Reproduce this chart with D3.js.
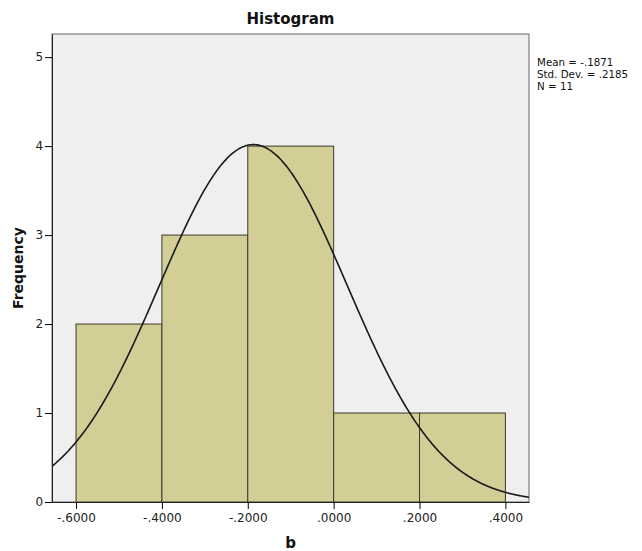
<!DOCTYPE html>
<html><head><meta charset="utf-8">
<script src="https://cdn.jsdelivr.net/npm/d3@7"></script>
<style>body{margin:0;background:#fff}text{font-family:"DejaVu Sans","Liberation Sans",sans-serif}</style>
</head><body>
<svg id="c" width="642" height="551"></svg>
<script>
const binStarts = [-0.6, -0.4, -0.2, 0.0, 0.2];
const binEnds = [-0.4, -0.2, 0.0, 0.2, 0.4];
const counts = [2, 3, 4, 1, 1];
const xTicks = [-0.6, -0.4, -0.2, 0.0, 0.2, 0.4];
const xTickLabels = ["-.6000", "-.4000", "-.2000", ".0000", ".2000", ".4000"];
const yTicks = [0, 1, 2, 3, 4, 5];
const mean = -0.1871, sd = 0.2185, n = 11, binWidth = 0.2;
const statLines = ["Mean = -.1871", "Std. Dev. = .2185", "N = 11"];

const svg = d3.select("#c");
const L = 52, R = 529, T = 34, B = 502;
const x = d3.scaleLinear().domain([-0.656, 0.455]).range([L, R]);
const y = d3.scaleLinear().domain([0, 5.26]).range([B, T]);

svg.append("rect").attr("x", L).attr("y", T).attr("width", R - L).attr("height", B - T)
  .attr("fill", "#efefef").attr("stroke", "#666").attr("stroke-width", 1);

svg.append("defs").append("clipPath").attr("id", "clip").append("rect")
  .attr("x", L).attr("y", T).attr("width", R - L).attr("height", B - T);

svg.append("g").selectAll("rect").data(counts).join("rect")
  .attr("x", (d, i) => x(binStarts[i]))
  .attr("width", (d, i) => x(binEnds[i]) - x(binStarts[i]))
  .attr("y", d => y(d))
  .attr("height", d => y(0) - y(d))
  .attr("fill", "#d3cd96").attr("stroke", "#3a3a2a").attr("stroke-width", 1);

const pts = d3.range(0, 401).map(i => {
  const v = -0.656 + (0.455 + 0.656) * i / 400;
  const f = n * binWidth / (sd * Math.sqrt(2 * Math.PI)) * Math.exp(-0.5 * ((v - mean) / sd) ** 2);
  return [v, f];
});
svg.append("path").datum(pts).attr("clip-path", "url(#clip)")
  .attr("d", d3.line().x(d => x(d[0])).y(d => y(d[1])).curve(d3.curveBasis))
  .attr("fill", "none").attr("stroke", "#1a1a1a").attr("stroke-width", 1.6);

const xAxis = svg.append("g").attr("transform", `translate(0,${B})`)
  .call(d3.axisBottom(x).tickValues(xTicks).tickFormat((d, i) => xTickLabels[i]).tickSize(7).tickSizeOuter(0));
xAxis.select(".domain").attr("stroke", "#222");
xAxis.selectAll("text").attr("font-size", 12).attr("fill", "#222").attr("dy", "0.85em");

const yAxis = svg.append("g").attr("transform", `translate(${L},0)`)
  .call(d3.axisLeft(y).tickValues(yTicks).tickFormat(d3.format("d")).tickSize(7).tickSizeOuter(0));
yAxis.select(".domain").attr("stroke", "#222");
yAxis.selectAll("text").attr("font-size", 12).attr("fill", "#222").attr("dx", "0.1em");

svg.append("text").attr("x", (L + R) / 2).attr("y", 24).attr("text-anchor", "middle")
  .attr("font-size", 15).attr("font-weight", "bold").attr("fill", "#111").text("Histogram");
svg.append("text").attr("x", (L + R) / 2).attr("y", 548).attr("text-anchor", "middle")
  .attr("font-size", 15).attr("font-weight", "bold").attr("fill", "#111").text("b");
svg.append("text").attr("transform", `translate(23,${(T + B) / 2}) rotate(-90)`).attr("text-anchor", "middle")
  .attr("font-size", 14).attr("font-weight", "bold").attr("fill", "#111").text("Frequency");

svg.append("g").selectAll("text").data(statLines).join("text")
  .attr("x", 537).attr("y", (d, i) => 65.5 + i * 12)
  .attr("font-size", 10.3).attr("fill", "#111").text(d => d);
</script>
</body></html>
